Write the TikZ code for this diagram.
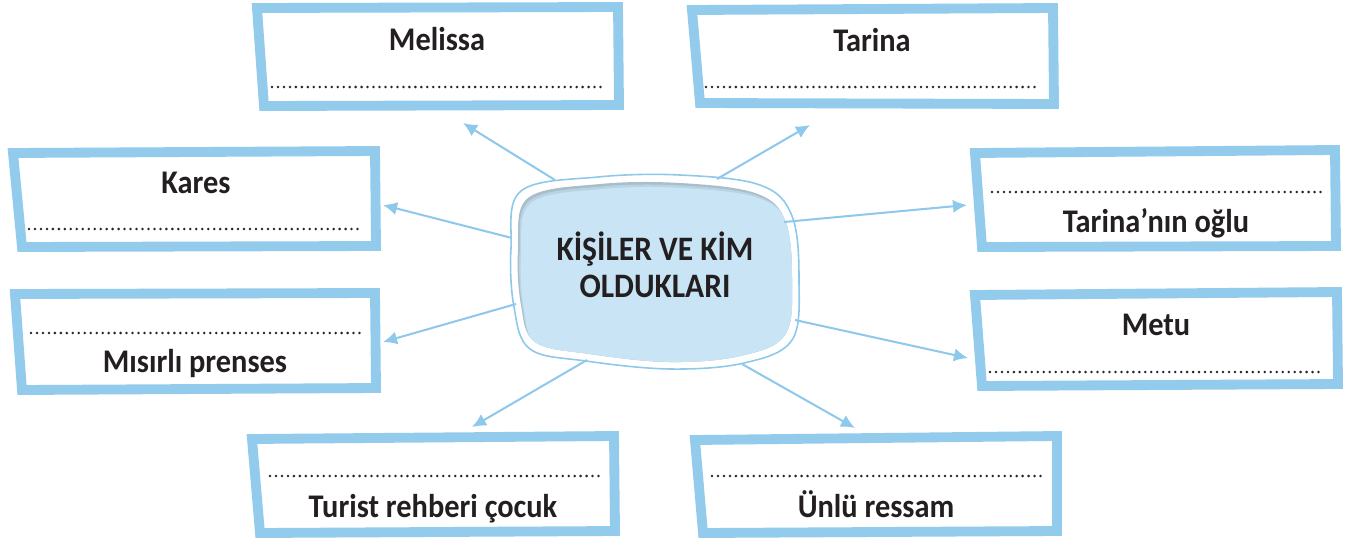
\documentclass[tikz,border=0pt]{standalone}
\usepackage{fontspec}
\setmainfont{Carlito}[FakeStretch=0.92]
\usetikzlibrary{arrows.meta}
\definecolor{boxblue}{HTML}{93CBEC}
\definecolor{arrblue}{HTML}{8EC8EB}
\definecolor{blobfill}{HTML}{C8E4F5}
\definecolor{shadeA}{HTML}{A9BDCA}
\definecolor{shadeB}{HTML}{B9D3E3}
\definecolor{ink}{HTML}{231F20}
\definecolor{dotc}{HTML}{262626}
\begin{document}
\begin{tikzpicture}[x=0.02cm,y=-0.02cm,
  frame/.style={draw=boxblue, line width=5.6pt, line join=miter},
  dotline/.style={draw=dotc, line width=1.6pt, line cap=round, dash pattern=on 0pt off 3.4pt},
  lbl/.style={font=\fontsize{18.8}{20}\selectfont\bfseries, text=ink, anchor=base, inner sep=0pt},
  ttl/.style={font=\fontsize{19.5}{21}\selectfont\bfseries, text=ink, anchor=base, inner sep=0pt},
  arr/.style={draw=arrblue, line width=1.15pt, -{Latex[length=8pt,width=7.5pt]}},
  blobpath/.style={smooth cycle, tension=0.6}
]
\useasboundingbox (0,0) rectangle (1349,542);

% ---- central blob ----
\def\innerblob{(528,198) (600,184) (680,183) (755,193) (785,220) (792,280) (785,335) (740,356) (670,362) (590,354) (535,342) (521,305) (518,250)}
\begin{scope}
  \clip plot[blobpath] coordinates {\innerblob};
  \fill[shadeA] (500,170) rectangle (810,380);
  \fill[shadeB, shift={(1.5,2.5)}] plot[blobpath] coordinates {\innerblob};
  \fill[blobfill, shift={(3,5)}] plot[blobpath] coordinates {\innerblob};
\end{scope}
\draw[arrblue, line width=0.9pt] plot[blobpath] coordinates {(521,191) (598,177) (680,175) (760,185) (792,216) (799,280) (792,340) (744,363) (670,369) (586,361) (530,349) (514,307) (511,248)};

\node[ttl] (t1) at (655,260) {KİŞİLER VE KİM};
\node[ttl] (t2) at (655,297) {OLDUKLARI};

% ---- arrow ends ----
\coordinate (s1) at (555,180); \coordinate (e1) at (463,123);
\coordinate (s2) at (717,179); \coordinate (e2) at (810,125);
\coordinate (s3) at (512,238); \coordinate (e3) at (383,205);
\coordinate (s4) at (784,222); \coordinate (e4) at (967,205);
\coordinate (s5) at (516,304); \coordinate (e5) at (383,342);
\coordinate (s6) at (795,320); \coordinate (e6) at (968,358);
\coordinate (s7) at (587,360); \coordinate (e7) at (472,427);
\coordinate (s8) at (742,364); \coordinate (e8) at (855,428);
\foreach \i in {1,...,8} {\draw[arr] (s\i) -- (e\i);}

% ---- boxes ----
% Melissa
\draw[frame] (257,8) -- (618,7) -- (619,105) -- (264,106) -- cycle;
\node[lbl] (melissa) at (437,50) {Melissa};
\coordinate (m1) at (272,87); \coordinate (m2) at (603,87);
\draw[dotline] (m1) -- (m2);
% Tarina
\draw[frame] (692,10) -- (1053,8) -- (1054,104) -- (700,103) -- cycle;
\node[lbl] (tarina) at (872,51) {Tarina};
\coordinate (ta1) at (706,87); \coordinate (ta2) at (1037,87);
\draw[dotline] (ta1) -- (ta2);
% Kares
\draw[frame] (13,153) -- (375,151) -- (376,246) -- (22,247) -- cycle;
\node[lbl] (kares) at (196,193) {Kares};
\coordinate (k1) at (29,229); \coordinate (k2) at (361,229);
\draw[dotline] (k1) -- (k2);
% Tarina'nin oglu
\draw[frame] (975,153) -- (1335,150) -- (1336,246) -- (982,247) -- cycle;
\node[lbl] (oglu) at (1156,232) {Tarina’nın oğlu};
\coordinate (o1) at (992,192); \coordinate (o2) at (1323,192);
\draw[dotline] (o1) -- (o2);
% Misirli prenses
\draw[frame] (15,294) -- (375,293) -- (376,388) -- (22,390) -- cycle;
\node[lbl] (prenses) at (195,372) {Mısırlı prenses};
\coordinate (p1) at (31,333); \coordinate (p2) at (363,333);
\draw[dotline] (p1) -- (p2);
% Metu
\draw[frame] (975,295) -- (1337,292) -- (1338,384) -- (982,386) -- cycle;
\node[lbl] (metu) at (1156,335) {Metu};
\coordinate (mt1) at (990,372); \coordinate (mt2) at (1322,372);
\draw[dotline] (mt1) -- (mt2);
% Turist rehberi cocuk
\draw[frame] (252,439) -- (614,436) -- (615,531) -- (260,533) -- cycle;
\node[lbl] (turist) at (433,517) {Turist rehberi çocuk};
\coordinate (tu1) at (270,476); \coordinate (tu2) at (602,476);
\draw[dotline] (tu1) -- (tu2);
% Unlu ressam
\draw[frame] (695,440) -- (1057,436) -- (1057,531) -- (703,533) -- cycle;
\node[lbl] (ressam) at (876,517) {Ünlü ressam};
\coordinate (r1) at (712,476); \coordinate (r2) at (1045,476);
\draw[dotline] (r1) -- (r2);
\end{tikzpicture}
\end{document}
